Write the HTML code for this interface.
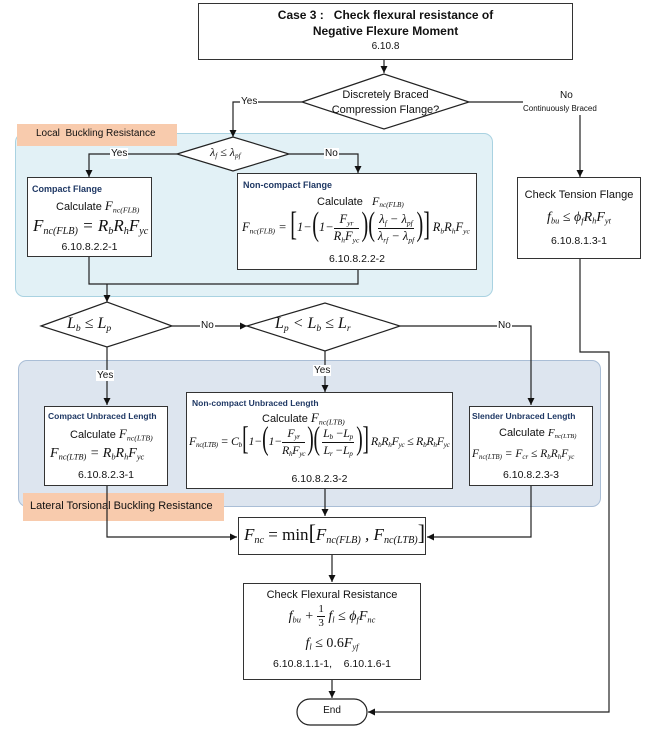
<!DOCTYPE html>
<html><head><meta charset="utf-8"><style>
body{margin:0;width:650px;height:729px;background:#fff;position:relative;overflow:hidden;font-family:"Liberation Sans",sans-serif;}
.a{position:absolute;box-sizing:border-box;}
.box{position:absolute;box-sizing:border-box;border:1.3px solid #333;background:#fff;}
.t{position:absolute;white-space:nowrap;color:#111;}
.m{font-family:"Liberation Serif",serif;font-style:italic;}
.m sub{font-size:60%;vertical-align:-0.3em;}
.h{color:#1f3864;font-weight:bold;font-size:9px;}
.fr{display:inline-flex;flex-direction:column;vertical-align:middle;text-align:center;line-height:1.2;}
.fr>span:first-child{border-bottom:1px solid #111;padding:0 1px;}
.lbl{position:absolute;background:#fff;font-size:10px;line-height:11px;padding:0 1px;color:#111;}
.br{font-size:2.7em;line-height:0;vertical-align:-0.12em;font-style:normal;font-weight:normal;display:inline-block;transform:scaleX(0.6);margin:0 -2px;}
</style></head><body>
<div class="a" style="left:15px;top:133px;width:478px;height:164px;background:#e2f1f6;border:1.5px solid #a9d2e1;border-radius:9px;"></div>
<div class="a" style="left:17px;top:124px;width:160px;height:22px;background:#f8cbad;"></div>
<div class="t" style="left:36px;top:128px;font-size:10px;">Local&nbsp; Buckling Resistance</div>
<div class="a" style="left:18px;top:360px;width:583px;height:147px;background:#dde5ef;border:1.5px solid #aabed6;border-radius:9px;"></div>
<div class="a" style="left:23px;top:493px;width:201px;height:28px;background:#f8cbad;"></div>
<div class="t" style="left:30px;top:500px;font-size:11px;">Lateral Torsional Buckling Resistance</div>

<svg class="a" style="left:0;top:0" width="650" height="729">
<defs><marker id="ar" markerWidth="8" markerHeight="8" refX="7" refY="4" orient="auto" markerUnits="userSpaceOnUse"><path d="M0,0.5 L7,4 L0,7.5z" fill="#111"/></marker></defs>
<g stroke="#222" stroke-width="1.2" fill="none">
<line x1="384" y1="60" x2="384" y2="73" marker-end="url(#ar)"/>
<polygon points="302,102 384,74 469,102 384,129" fill="#fff"/>
<polyline points="302,102 233,102 233,137" marker-end="url(#ar)"/>
<polyline points="469,102 523,102"/>
<line x1="580" y1="115" x2="580" y2="177" marker-end="url(#ar)"/>
<polygon points="177,154 233,137 289,154 233,171" fill="#fff"/>
<polyline points="177,154 89,154 89,177" marker-end="url(#ar)"/>
<polyline points="289,154 358,154 358,173" marker-end="url(#ar)"/>
<polyline points="89,257 89,284 358,284 358,270"/>
<line x1="107" y1="284" x2="107" y2="302" marker-end="url(#ar)"/>
<polygon points="41,326 107,302 172,326 107,347" fill="#fff"/>
<line x1="172" y1="326" x2="247" y2="326" marker-end="url(#ar)"/>
<polygon points="247,326 325,303 400,326 325,351" fill="#fff"/>
<polyline points="400,326 531,326 531,405" marker-end="url(#ar)"/>
<line x1="107" y1="347" x2="107" y2="405" marker-end="url(#ar)"/>
<line x1="325" y1="351" x2="325" y2="392" marker-end="url(#ar)"/>
<polyline points="580,259 580,352 609,352 609,712 368,712" marker-end="url(#ar)"/>
<polyline points="107,486 107,537 237,537" marker-end="url(#ar)"/>
<line x1="325" y1="489" x2="325" y2="516" marker-end="url(#ar)"/>
<polyline points="531,486 531,537 427,537" marker-end="url(#ar)"/>
<line x1="332" y1="555" x2="332" y2="582" marker-end="url(#ar)"/>
<line x1="332" y1="680" x2="332" y2="698" marker-end="url(#ar)"/>
<rect x="297" y="699" width="70" height="26" rx="13" fill="#fff"/>
</g>
</svg>

<div class="t" style="left:302px;top:88px;width:167px;text-align:center;font-size:11px;line-height:15px;">Discretely Braced<br>Compression Flange?</div>
<div class="t m" style="left:210px;top:145px;font-size:12px;">λ<sub>f</sub> ≤ λ<sub>pf</sub></div>
<div class="t m" style="left:67px;top:315px;font-size:16px;">L<sub>b</sub> ≤ L<sub>p</sub></div>
<div class="t m" style="left:275px;top:315px;font-size:16px;">L<sub>p</sub> &lt; L<sub>b</sub> ≤ L<sub>r</sub></div>
<div class="lbl" style="left:240px;top:96px;">Yes</div>
<div class="t" style="left:560px;top:90px;font-size:10px;">No</div>
<div class="t" style="left:523px;top:104px;font-size:8px;">Continuously Braced</div>
<div class="lbl" style="left:110px;top:148px;">Yes</div>
<div class="lbl" style="left:324px;top:148px;">No</div>
<div class="lbl" style="left:200px;top:320px;">No</div>
<div class="lbl" style="left:497px;top:320px;">No</div>
<div class="lbl" style="left:96px;top:370px;">Yes</div>
<div class="lbl" style="left:313px;top:365px;">Yes</div>

<div class="box" style="left:198px;top:3px;width:375px;height:57px;"></div>
<div class="t" style="left:198px;top:8px;width:375px;text-align:center;font-size:12px;font-weight:bold;">Case 3 :&nbsp;&nbsp; Check flexural resistance of</div>
<div class="t" style="left:198px;top:24px;width:375px;text-align:center;font-size:12px;font-weight:bold;">Negative Flexure Moment</div>
<div class="t" style="left:198px;top:41px;width:375px;text-align:center;font-size:10px;">6.10.8</div>

<div class="box" style="left:27px;top:177px;width:125px;height:80px;"></div>
<div class="t h" style="left:32px;top:184px;">Compact Flange</div>
<div class="t" style="left:56px;top:198px;font-size:11px;">Calculate <span class="m" style="font-size:13px">F<sub>nc(FLB)</sub></span></div>
<div class="t m" style="left:33px;top:216px;font-size:17px;">F<sub>nc(FLB)</sub> = R<sub>b</sub>R<sub>h</sub>F<sub>yc</sub></div>
<div class="t" style="left:27px;top:241px;width:125px;text-align:center;font-size:10.5px;">6.10.8.2.2-1</div>

<div class="box" style="left:237px;top:173px;width:240px;height:97px;"></div>
<div class="t h" style="left:243px;top:180px;">Non-compact Flange</div>
<div class="t" style="left:317px;top:194px;font-size:11px;">Calculate&nbsp;&nbsp; <span class="m" style="font-size:12px">F<sub>nc(FLB)</sub></span></div>
<div class="t m" style="left:242px;top:212px;font-size:12.5px;line-height:30px;">F<sub>nc(FLB)</sub> = <span class="br">[</span>1−<span class="br">(</span>1−<span class="fr"><span>F<sub>yr</sub></span><span>R<sub>h</sub>F<sub>yc</sub></span></span><span class="br">)(</span><span class="fr"><span>λ<sub>f</sub> − λ<sub>pf</sub></span><span>λ<sub>rf</sub> − λ<sub>pf</sub></span></span><span class="br">)]</span>R<sub>b</sub>R<sub>h</sub>F<sub>yc</sub></div>
<div class="t" style="left:237px;top:253px;width:240px;text-align:center;font-size:10.5px;">6.10.8.2.2-2</div>

<div class="box" style="left:517px;top:177px;width:124px;height:82px;"></div>
<div class="t" style="left:517px;top:189px;width:124px;text-align:center;font-size:11px;">Check Tension Flange</div>
<div class="t m" style="left:517px;top:210px;width:124px;text-align:center;font-size:14px;">f<sub>bu</sub> ≤ ϕ<sub>f</sub>R<sub>h</sub>F<sub>yt</sub></div>
<div class="t" style="left:517px;top:235px;width:124px;text-align:center;font-size:10.5px;">6.10.8.1.3-1</div>

<div class="box" style="left:44px;top:406px;width:124px;height:80px;"></div>
<div class="t h" style="left:48px;top:411px;font-size:8.5px;">Compact Unbraced Length</div>
<div class="t" style="left:70px;top:426px;font-size:11px;">Calculate <span class="m" style="font-size:13px">F<sub>nc(LTB)</sub></span></div>
<div class="t m" style="left:50px;top:446px;font-size:14px;">F<sub>nc(LTB)</sub> = R<sub>b</sub>R<sub>h</sub>F<sub>yc</sub></div>
<div class="t" style="left:44px;top:469px;width:124px;text-align:center;font-size:10.5px;">6.10.8.2.3-1</div>

<div class="box" style="left:186px;top:392px;width:267px;height:97px;"></div>
<div class="t h" style="left:192px;top:398px;font-size:8.5px;">Non-compact Unbraced Length</div>
<div class="t" style="left:262px;top:410px;font-size:11px;">Calculate <span class="m" style="font-size:13px">F<sub>nc(LTB)</sub></span></div>
<div class="t m" style="left:189px;top:426px;font-size:12px;line-height:30px;letter-spacing:-0.3px;">F<sub>nc(LTB)</sub> = C<sub>b</sub><span class="br">[</span>1−<span class="br">(</span>1−<span class="fr"><span>F<sub>yr</sub></span><span>R<sub>h</sub>F<sub>yc</sub></span></span><span class="br">)(</span><span class="fr"><span>L<sub>b</sub> −L<sub>p</sub></span><span>L<sub>r</sub> −L<sub>p</sub></span></span><span class="br">)]</span>R<sub>b</sub>R<sub>h</sub>F<sub>yc</sub> ≤ R<sub>b</sub>R<sub>h</sub>F<sub>yc</sub></div>
<div class="t" style="left:186px;top:473px;width:267px;text-align:center;font-size:10.5px;">6.10.8.2.3-2</div>

<div class="box" style="left:469px;top:406px;width:124px;height:80px;"></div>
<div class="t h" style="left:472px;top:411px;font-size:8.5px;">Slender Unbraced Length</div>
<div class="t" style="left:499px;top:427px;font-size:11px;">Calculate <span class="m" style="font-size:11px">F<sub>nc(LTB)</sub></span></div>
<div class="t m" style="left:472px;top:448px;font-size:11.5px;">F<sub>nc(LTB)</sub> = F<sub>cr</sub> ≤ R<sub>b</sub>R<sub>h</sub>F<sub>yc</sub></div>
<div class="t" style="left:469px;top:469px;width:124px;text-align:center;font-size:10.5px;">6.10.8.2.3-3</div>

<div class="box" style="left:238px;top:517px;width:188px;height:38px;"></div>
<div class="t m" style="left:244px;top:525px;font-size:17px;">F<sub>nc</sub> <span style="font-style:normal">= min</span><span style="font-style:normal;font-size:22px;line-height:0">[</span>F<sub>nc(FLB)</sub> , F<sub>nc(LTB)</sub><span style="font-style:normal;font-size:22px;line-height:0">]</span></div>

<div class="box" style="left:243px;top:583px;width:178px;height:97px;"></div>
<div class="t" style="left:243px;top:589px;width:178px;text-align:center;font-size:11px;">Check Flexural Resistance</div>
<div class="t m" style="left:243px;top:603px;width:178px;text-align:center;font-size:14px;">f<sub>bu</sub> + <span class="fr" style="font-style:normal;font-size:11px"><span>1</span><span>3</span></span> f<sub>l</sub> ≤ ϕ<sub>f</sub>F<sub>nc</sub></div>
<div class="t m" style="left:243px;top:636px;width:178px;text-align:center;font-size:14px;">f<sub>l</sub> ≤ <span style="font-style:normal">0.6</span>F<sub>yf</sub></div>
<div class="t" style="left:243px;top:658px;width:178px;text-align:center;font-size:10.5px;">6.10.8.1.1-1,&nbsp;&nbsp;&nbsp; 6.10.1.6-1</div>

<div class="t" style="left:297px;top:705px;width:70px;text-align:center;font-size:10px;">End</div>
</body></html>
